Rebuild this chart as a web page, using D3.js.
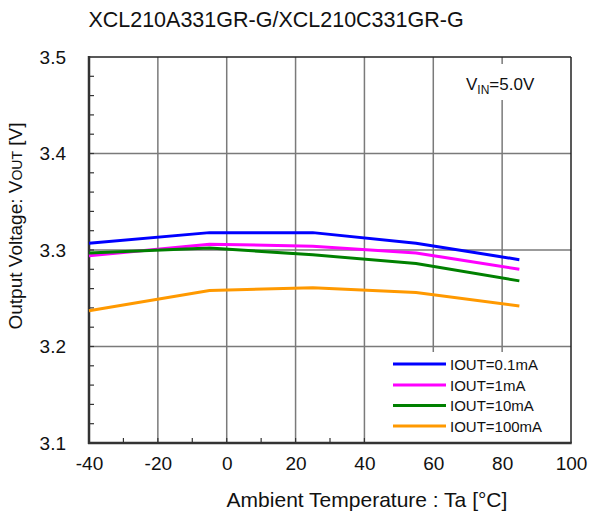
<!DOCTYPE html>
<html><head><meta charset="utf-8">
<script src="https://cdn.jsdelivr.net/npm/d3@7"></script>
<style>body{margin:0;background:#fff}svg{display:block;font-family:"Liberation Sans",Arial,sans-serif}</style>
</head><body><svg id="c" width="590" height="514"></svg>
<script>
const temps = [-40, -5, 25, 55, 85];
const seriesNames = ["IOUT=0.1mA", "IOUT=1mA", "IOUT=10mA", "IOUT=100mA"];
const vout01mA = [3.307, 3.318, 3.318, 3.307, 3.290];
const vout1mA = [3.294, 3.306, 3.304, 3.297, 3.280];
const vout10mA = [3.297, 3.302, 3.295, 3.286, 3.268];
const vout100mA = [3.237, 3.258, 3.261, 3.256, 3.242];
const xTicks = [-40, -20, 0, 20, 40, 60, 80, 100];
const yTicks = [3.1, 3.2, 3.3, 3.4, 3.5];
const colors = ["#0000ff", "#ff00ff", "#008000", "#ff9900"];
const title = "XCL210A331GR-G/XCL210C331GR-G";

const series = [vout01mA, vout1mA, vout10mA, vout100mA];
const svg = d3.select("#c");
const L = 89, R = 571, T = 57, B = 443;
const x = d3.scaleLinear().domain([-40, 100]).range([L, R]);
const y = d3.scaleLinear().domain([3.1, 3.5]).range([B, T]);

// grid
const g = svg.append("g");
g.selectAll(".gx").data(xTicks.slice(1, -1)).join("line")
  .attr("x1", d => x(d)).attr("x2", d => x(d)).attr("y1", T).attr("y2", B)
  .attr("stroke", "#7a7a7a").attr("stroke-width", 1.5);
g.selectAll(".gy").data(yTicks.slice(1, -1)).join("line")
  .attr("x1", L).attr("x2", R).attr("y1", d => y(d)).attr("y2", d => y(d))
  .attr("stroke", "#7a7a7a").attr("stroke-width", 1.5);

// minor ticks (inward)
const yMinor = d3.range(3.12, 3.5, 0.02).map(v => +v.toFixed(2));
g.selectAll(".my").data(yMinor).join("line")
  .attr("x1", L).attr("x2", L + 5).attr("y1", d => y(d)).attr("y2", d => y(d))
  .attr("stroke", "#333").attr("stroke-width", 1.2);
const xMinor = d3.range(-30, 100, 10);
g.selectAll(".mx").data(xMinor).join("line")
  .attr("x1", d => x(d)).attr("x2", d => x(d)).attr("y1", B).attr("y2", B - 5)
  .attr("stroke", "#333").attr("stroke-width", 1.2);

// VIN label background
svg.append("rect").attr("x", 458).attr("y", 64).attr("width", 90).attr("height", 36).attr("fill", "#fff");
// legend background
svg.append("rect").attr("x", 386).attr("y", 352).attr("width", R - 387).attr("height", B - 353).attr("fill", "#fff");

// frame
svg.append("line").attr("x1", L).attr("x2", R).attr("y1", T).attr("y2", T).attr("stroke", "#222").attr("stroke-width", 1.5);
svg.append("line").attr("x1", R).attr("x2", R).attr("y1", T).attr("y2", B).attr("stroke", "#222").attr("stroke-width", 1.5);
svg.append("line").attr("x1", L).attr("x2", L).attr("y1", T - 1).attr("y2", B + 1).attr("stroke", "#333").attr("stroke-width", 2.5);
svg.append("line").attr("x1", L - 1).attr("x2", R + 0.75).attr("y1", B).attr("y2", B).attr("stroke", "#333").attr("stroke-width", 2.5);

// lines
const line = d3.line().x((d, i) => x(temps[i])).y(d => y(d));
series.forEach((s, i) => {
  svg.append("path").datum(s).attr("d", line).attr("fill", "none")
    .attr("stroke", colors[i]).attr("stroke-width", 3);
});

// axis labels
const xa = svg.append("g").attr("transform", `translate(0,${B})`)
  .call(d3.axisBottom(x).tickValues(xTicks).tickSize(0).tickPadding(14).tickFormat(d => String(d)));
xa.select(".domain").remove();
xa.selectAll("text").attr("font-size", 19).attr("fill", "#111").attr("font-family", "Liberation Sans, Arial, sans-serif");
const ya = svg.append("g").attr("transform", `translate(${L},0)`)
  .call(d3.axisLeft(y).tickValues(yTicks).tickSize(0).tickPadding(23).tickFormat(d3.format(".1f")));
ya.select(".domain").remove();
ya.selectAll("text").attr("font-size", 19).attr("fill", "#111").attr("font-family", "Liberation Sans, Arial, sans-serif");

// title
svg.append("text").attr("x", 276).attr("y", 27).attr("text-anchor", "middle")
  .attr("font-size", 21.5).attr("fill", "#111").text(title);
// x title
svg.append("text").attr("x", 367).attr("y", 507).attr("text-anchor", "middle")
  .attr("font-size", 21).attr("fill", "#111").text("Ambient Temperature : Ta [°C]");
// y title
const yt = svg.append("text").attr("transform", "translate(22,226) rotate(-90)").attr("text-anchor", "middle")
  .attr("font-size", 19).attr("fill", "#111");
yt.append("tspan").text("Output Voltage: V");
yt.append("tspan").attr("font-size", 14).text("OUT");
yt.append("tspan").text(" [V]");

// VIN
const vt = svg.append("text").attr("x", 466).attr("y", 90).attr("font-size", 17).attr("fill", "#111");
vt.append("tspan").text("V");
vt.append("tspan").attr("font-size", 12).attr("dy", 4).text("IN");
vt.append("tspan").attr("dy", -4).text("=5.0V");

// legend
const legY = [364, 385, 405.5, 426];
seriesNames.forEach((n, i) => {
  svg.append("line").attr("x1", 393).attr("x2", 446).attr("y1", legY[i]).attr("y2", legY[i])
    .attr("stroke", colors[i]).attr("stroke-width", 3);
  svg.append("text").attr("x", 450).attr("y", legY[i] + 5.5).attr("font-size", 15).attr("fill", "#111").text(n);
});
</script></body></html>
